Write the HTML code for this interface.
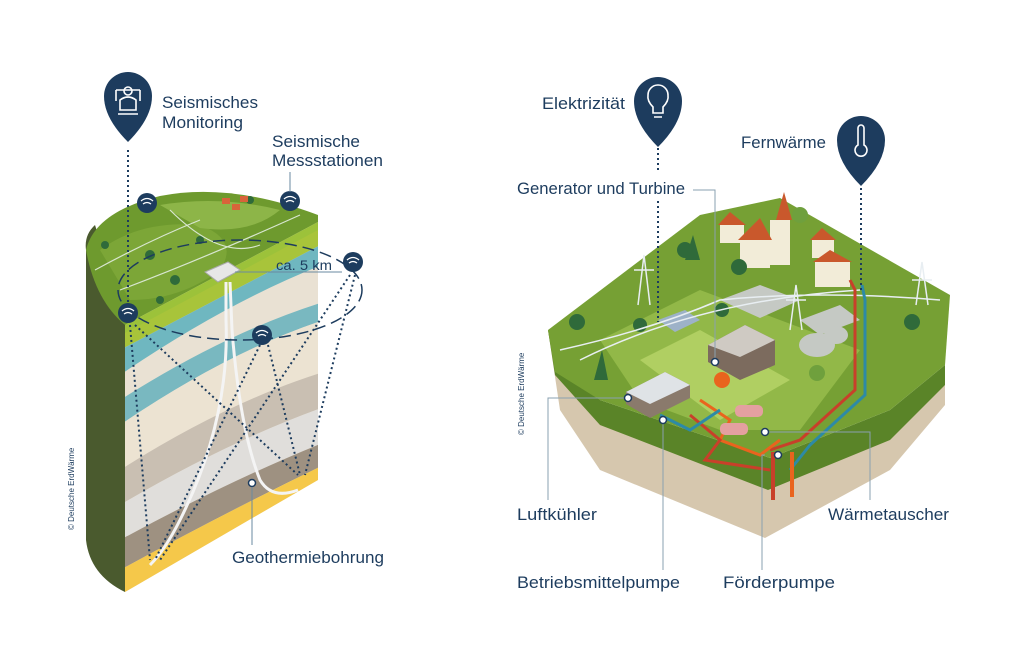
<!DOCTYPE html>
<html><head><meta charset="utf-8"><style>
html,body{margin:0;padding:0;background:#fff}
svg{display:block}
text{font-family:"Liberation Sans",sans-serif;fill:#1d3c5e}
</style></head><body>
<svg width="1024" height="668" viewBox="0 0 1024 668" xmlns="http://www.w3.org/2000/svg">
<rect width="1024" height="668" fill="#fff"/>

<!-- ============ LEFT BLOCK ============ -->
<path d="M86,250 Q84,235 95,225 L125,320 L125,592 Q90,575 86,540 Z" fill="#4a5a2e"/>
<clipPath id="cs"><polygon points="125,320 318,215 318,480 125,592"/></clipPath>
<g clip-path="url(#cs)">
<rect x="120" y="200" width="210" height="400" fill="#e9e1d3"/>
<path d="M120,335 L330,222 L330,240 L120,350 Z" fill="#a8c43a"/>
<path d="M120,350 L330,240 L330,262 Q230,300 120,375 Z" fill="#6fb7c0"/>
<path d="M120,400 Q230,330 330,300 L330,318 Q230,350 120,425 Z" fill="#79b8c0"/>
<path d="M120,425 Q230,350 330,318 L330,370 Q230,400 120,470 Z" fill="#ece3d2"/>
<path d="M120,470 Q230,400 330,370 L330,405 Q230,440 120,505 Z" fill="#c9bfb2"/>
<path d="M120,505 Q230,440 330,405 L330,440 Q230,480 120,540 Z" fill="#e0dedb"/>
<path d="M120,540 Q230,480 330,440 L330,462 Q230,510 120,570 Z" fill="#9e9181"/>
<path d="M120,570 Q230,510 330,462 L330,490 L120,600 Z" fill="#f5c84a"/>
</g>
<path d="M86,250 Q95,212 160,196 Q230,182 318,215 L318,222 L125,325 Q95,300 86,250 Z" fill="#6e9a2e"/>
<path d="M100,250 Q140,220 200,225 Q240,240 220,270 Q180,300 130,300 Z" fill="#7fa93a" opacity=".8"/>
<path d="M160,205 Q220,195 280,210 Q250,235 200,228 Z" fill="#8db548"/>
<path d="M125,325 L318,222 L318,230 L125,333 Z" fill="#9cc23a"/>
<g fill="#2f6a3a"><circle cx="150" cy="255" r="5"/><circle cx="175" cy="280" r="5"/><circle cx="105" cy="245" r="4"/><circle cx="250" cy="200" r="4"/><circle cx="200" cy="240" r="4"/><circle cx="160" cy="300" r="4"/></g>
<g fill="#d8643a"><rect x="222" y="198" width="8" height="6"/><rect x="232" y="204" width="8" height="6"/><rect x="240" y="196" width="8" height="6"/></g>
<path d="M95,270 Q150,240 200,220 M120,290 Q200,260 300,215 M170,210 Q220,260 260,245" stroke="#d8e6d0" stroke-width="1.2" fill="none"/>
<polygon points="205,272 228,262 240,270 218,282" fill="#e7e7e7" stroke="#aaa"/>
<path d="M226,282 L226,320 Q230,420 180,520 Q165,550 150,565" stroke="#f4f4f4" stroke-width="3" fill="none"/>
<path d="M230,282 L232,330 Q240,430 260,480 Q272,500 298,490" stroke="#f4f4f4" stroke-width="3" fill="none"/>
<ellipse cx="240" cy="290" rx="122" ry="50" fill="none" stroke="#1d3c5e" stroke-width="1.5" stroke-dasharray="12,6"/>
<g stroke="#1d3c5e" stroke-width="2" stroke-dasharray="2,3" fill="none">
<line x1="128" y1="150" x2="128" y2="305"/>
<line x1="130" y1="325" x2="150" y2="560"/>
<line x1="135" y1="325" x2="298" y2="475"/>
<line x1="260" y1="345" x2="155" y2="560"/>
<line x1="268" y1="345" x2="300" y2="475"/>
<line x1="350" y1="275" x2="160" y2="560"/>
<line x1="355" y1="275" x2="305" y2="475"/>
</g>
<line x1="235" y1="272" x2="342" y2="272" stroke="#6a8aa0" stroke-width="1"/>
<g fill="#1d3c5e">
<circle cx="147" cy="203" r="10"/><circle cx="290" cy="201" r="10"/><circle cx="353" cy="262" r="10"/><circle cx="128" cy="313" r="10"/><circle cx="262" cy="335" r="10"/>
</g>
<g stroke="#fff" stroke-width="1.3" fill="none">
<path d="M141,201 Q147,196 153,201 M143,204 Q147,201 151,204"/>
<path d="M284,199 Q290,194 296,199 M286,202 Q290,199 294,202"/>
<path d="M347,260 Q353,255 359,260 M349,263 Q353,260 357,263"/>
<path d="M122,311 Q128,306 134,311 M124,314 Q128,311 132,314"/>
<path d="M256,333 Q262,328 268,333 M258,336 Q262,333 266,336"/>
</g>
<circle cx="252" cy="483" r="3.5" fill="#fff" stroke="#1d3c5e" stroke-width="1.5"/>
<line x1="252" y1="487" x2="252" y2="545" stroke="#6a8aa0"/>
<text x="276" y="270" font-size="13.5" textLength="56" lengthAdjust="spacingAndGlyphs">ca. 5 km</text>
<text x="232" y="563" font-size="17" textLength="152" lengthAdjust="spacingAndGlyphs">Geothermiebohrung</text>
<path d="M128,142 Q104,118 104,96 A24,24 0 1 1 152,96 Q152,118 128,142 Z" fill="#1d3c5e"/>
<g stroke="#fff" stroke-width="1.6" fill="none"><circle cx="128" cy="91" r="4"/><path d="M120,110 L120,100 Q128,94 136,100 L136,110 Z M116,90 L116,101 M140,90 L140,101 M116,90 L140,90 M118,114 L138,114"/></g>
<text x="162" y="108" font-size="17" textLength="96" lengthAdjust="spacingAndGlyphs">Seismisches</text>
<text x="162" y="128" font-size="17" textLength="81" lengthAdjust="spacingAndGlyphs">Monitoring</text>
<text x="272" y="147" font-size="17" textLength="88" lengthAdjust="spacingAndGlyphs">Seismische</text>
<text x="272" y="166" font-size="17" textLength="111" lengthAdjust="spacingAndGlyphs">Messstationen</text>
<line x1="290" y1="172" x2="290" y2="192" stroke="#6a8aa0"/>
<text transform="translate(74,530) rotate(-90)" font-size="8">© Deutsche ErdWärme</text>

<!-- ============ RIGHT BLOCK ============ -->
<path d="M548,330 L560,410 L600,470 L765,538 L890,470 L945,405 L945,385 L890,420 L770,460 L600,410 Z" fill="#d6c7ae"/>
<path d="M548,330 L555,375 L600,425 L768,490 L890,440 L945,385 L945,365 L890,410 L770,458 L600,400 Z" fill="#5a8428"/>
<polygon points="548,330 700,215 780,198 950,295 945,365 890,410 770,458 600,400 555,372" fill="#76a034"/>
<polygon points="600,340 700,290 860,350 800,430 720,430 640,400" fill="#92b848"/>
<polygon points="640,360 700,330 790,380 720,420" fill="#b0cf62"/>
<g fill="#f2ecd8"><rect x="720" y="225" width="24" height="18"/><rect x="740" y="240" width="30" height="28"/><rect x="770" y="220" width="20" height="45"/><rect x="812" y="240" width="22" height="18"/><rect x="815" y="262" width="35" height="25"/></g>
<g fill="#c9582c"><polygon points="718,225 730,212 746,225"/><polygon points="738,240 760,218 772,240"/><polygon points="776,220 784,192 792,220"/><polygon points="810,240 822,228 836,240"/><polygon points="813,262 830,250 852,262"/></g>
<g fill="#c5c9c4"><polygon points="720,300 760,285 800,300 760,318"/><polygon points="800,320 840,305 860,320 820,335"/><ellipse cx="817" cy="345" rx="18" ry="12"/><ellipse cx="836" cy="335" rx="12" ry="9"/></g>
<polygon points="708,345 745,325 775,340 775,365 740,380 708,362" fill="#7c6b5e"/>
<polygon points="708,345 745,325 775,340 740,357" fill="#cfcac3"/>
<polygon points="626,392 665,372 690,385 690,398 650,418 626,404" fill="#8a7a6c"/>
<polygon points="626,392 665,372 690,385 650,404" fill="#dfe3e6"/>
<polygon points="658,320 685,310 700,320 675,332" fill="#9db2c8"/>
<g fill="#2f6a3a"><circle cx="577" cy="322" r="8"/><circle cx="640" cy="325" r="7"/><circle cx="685" cy="250" r="8"/><circle cx="739" cy="267" r="8"/><circle cx="912" cy="322" r="8"/><circle cx="800" cy="215" r="8" fill="#6fa03d"/><circle cx="722" cy="310" r="7"/><circle cx="817" cy="373" r="8" fill="#6fa03d"/><polygon points="594,380 602,350 608,380"/><polygon points="685,260 693,235 700,260"/></g>
<g stroke="#e8eef2" stroke-width="1.5" fill="none"><path d="M638,305 L644,255 L650,305 M634,270 L654,270"/><path d="M790,330 L796,285 L802,330 M786,300 L806,300"/><path d="M916,305 L922,262 L928,305 M912,280 L932,280"/><path d="M560,350 Q650,330 720,300 Q820,290 940,300 M580,360 Q700,300 860,290"/></g>
<g fill="none" stroke-width="3">
<path d="M850,280 L855,290 L855,390 L800,440 L770,450" stroke="#c8402a"/>
<path d="M862,285 L865,300 L865,395 L810,445 L790,470" stroke="#2d8aa6"/>
<path d="M700,400 L730,420 L720,440 L760,455 L780,440" stroke="#e9641e"/>
<path d="M690,415 L720,440 L705,460 L770,470" stroke="#c8402a"/>
<path d="M660,415 L690,430 L720,410" stroke="#2d8aa6"/>
<path d="M773,452 L773,500" stroke="#c8402a" stroke-width="4"/>
<path d="M792,452 L792,497" stroke="#e9641e" stroke-width="4"/>
</g>
<rect x="735" y="405" width="28" height="12" rx="5" fill="#e4a0a0"/>
<rect x="720" y="423" width="28" height="12" rx="5" fill="#e4a0a0"/>
<circle cx="722" cy="380" r="8" fill="#e9641e"/>
<g fill="none">
<line x1="658" y1="148" x2="658" y2="172" stroke="#1d3c5e" stroke-width="2" stroke-dasharray="2,3"/>
<line x1="658" y1="201" x2="658" y2="322" stroke="#1d3c5e" stroke-width="2" stroke-dasharray="2,3"/>
<line x1="861" y1="188" x2="861" y2="292" stroke="#1d3c5e" stroke-width="2" stroke-dasharray="2,3"/>
<path d="M693,190 L715,190 L715,362" stroke="#8aa0b0"/>
<path d="M628,398 L548,398 L548,500" stroke="#8aa0b0"/>
<path d="M663,420 L663,570" stroke="#8aa0b0"/>
<path d="M765,455 L762,455 L762,570" stroke="#8aa0b0"/>
<path d="M765,432 L870,432 L870,500" stroke="#8aa0b0"/>
</g>
<g fill="#fff" stroke="#1d3c5e" stroke-width="1.5"><circle cx="628" cy="398" r="3.5"/><circle cx="663" cy="420" r="3.5"/><circle cx="765" cy="432" r="3.5"/><circle cx="778" cy="455" r="3.5"/><circle cx="715" cy="362" r="3.5"/></g>
<path d="M658,147 Q634,123 634,101 A24,24 0 1 1 682,101 Q682,123 658,147 Z" fill="#1d3c5e"/>
<path d="M653,113 L653,107 Q647,101 648,95 A10,10 0 1 1 668,95 Q669,101 663,107 L663,113 Z M654,117 L662,117" stroke="#fff" stroke-width="1.6" fill="none"/>
<path d="M861,186 Q837,162 837,140 A24,24 0 1 1 885,140 Q885,162 861,186 Z" fill="#1d3c5e"/>
<path d="M858,145 L858,128 A3,3 0 0 1 864,128 L864,145 A6,6 0 1 1 858,145 Z" stroke="#fff" stroke-width="1.6" fill="none"/>
<text x="542" y="109" font-size="17" textLength="83" lengthAdjust="spacingAndGlyphs">Elektrizität</text>
<text x="741" y="148" font-size="17" textLength="85" lengthAdjust="spacingAndGlyphs">Fernwärme</text>
<text x="517" y="194" font-size="17" textLength="168" lengthAdjust="spacingAndGlyphs">Generator und Turbine</text>
<text x="517" y="520" font-size="17" textLength="80" lengthAdjust="spacingAndGlyphs">Luftkühler</text>
<text x="828" y="520" font-size="17" textLength="121" lengthAdjust="spacingAndGlyphs">Wärmetauscher</text>
<text x="517" y="588" font-size="17" textLength="163" lengthAdjust="spacingAndGlyphs">Betriebsmittelpumpe</text>
<text x="723" y="588" font-size="17" textLength="112" lengthAdjust="spacingAndGlyphs">Förderpumpe</text>
<text transform="translate(524,435) rotate(-90)" font-size="8">© Deutsche ErdWärme</text>
</svg>
</body></html>
